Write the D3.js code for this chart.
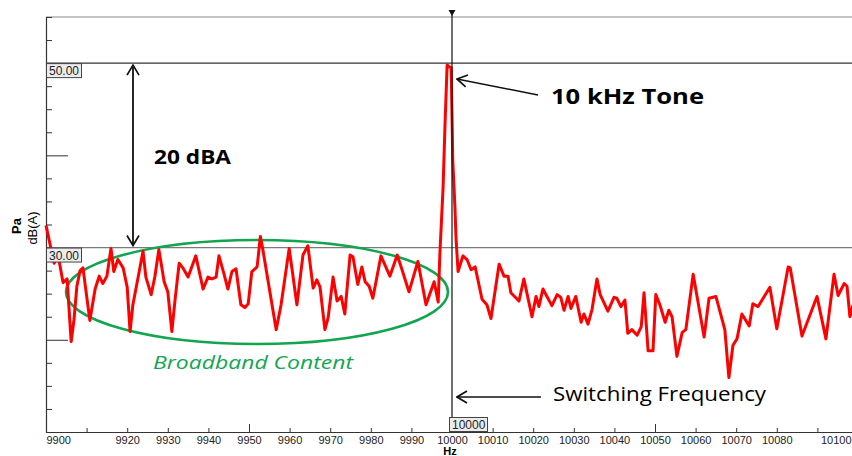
<!DOCTYPE html>
<html>
<head>
<meta charset="utf-8">
<script src="https://cdn.jsdelivr.net/npm/d3@7"></script>
<style>
  body { margin: 0; background: #fff; }
  svg { display: block; }
  .axis text { font-family: "Liberation Sans", Arial, sans-serif; font-size: 11px; fill: #222; }
  .anot { font-family: "Open Sans", Lato, sans-serif; }
</style>
</head>
<body>
<div id="chart"></div>
<script>
// DATOS.
const freqs = [
  9900.0, 9902.0, 9903.0, 9904.2, 9905.2, 9906.2, 9906.9, 9907.6, 9908.4, 9909.1,
  9910.8, 9912.1, 9913.1, 9914.0, 9915.0, 9916.0, 9916.7, 9917.7, 9919.0, 9920.0,
  9920.7, 9921.4, 9922.7, 9923.9, 9924.6, 9925.9, 9926.8, 9927.8, 9929.1, 9930.0,
  9931.0, 9931.8, 9932.8, 9933.7, 9935.0, 9936.9, 9938.7, 9939.9, 9940.9, 9941.9,
  9942.6, 9943.8, 9944.8, 9945.8, 9946.8, 9948.0, 9949.0, 9949.8, 9950.7, 9952.0,
  9952.8, 9953.4, 9956.7, 9957.9, 9959.9, 9961.8, 9963.3, 9964.5, 9965.8, 9966.7,
  9967.5, 9968.7, 9969.5, 9970.7, 9971.7, 9972.7, 9973.6, 9974.9, 9975.6, 9976.8,
  9977.8, 9978.6, 9979.6, 9980.5, 9982.5, 9984.7, 9986.5, 9987.7, 9989.4, 9991.6,
  9993.6, 9995.6, 9996.6, 9997.0, 9997.8, 9998.3, 9998.8, 9999.3, 9999.8, 10000.2,
  10000.7, 10001.0, 10001.5, 10002.7, 10003.7, 10004.7, 10005.7, 10007.4, 10008.6, 10009.6,
  10011.6, 10012.8, 10013.8, 10014.5, 10016.5, 10017.7, 10019.7, 10020.7, 10021.4, 10022.4,
  10024.6, 10025.9, 10026.8, 10027.6, 10028.6, 10029.3, 10030.5, 10031.8, 10032.5, 10033.5,
  10034.5, 10035.7, 10036.5, 10038.4, 10039.9, 10040.6, 10041.6, 10042.6, 10043.3, 10044.3,
  10045.6, 10046.6, 10047.3, 10048.3, 10049.5, 10050.2, 10051.2, 10052.5, 10053.4, 10054.2,
  10055.4, 10056.7, 10057.6, 10059.4, 10062.1, 10063.3, 10065.0, 10067.2, 10068.2, 10069.2,
  10070.2, 10071.4, 10073.2, 10074.1, 10075.4, 10078.3, 10080.0, 10082.8, 10083.3, 10086.2,
  10089.9, 10092.1, 10094.1, 10095.1, 10096.6, 10097.3, 10098.0, 10098.8
];
const levels = [
  32.4, 28.3, 29.1, 26.2, 26.6, 19.8, 22.2, 25.8, 27.5, 27.8,
  22.1, 25.5, 26.9, 26.1, 26.9, 29.9, 27.4, 28.7, 27.8, 25.7,
  20.9, 23.8, 26.8, 29.6, 26.8, 24.9, 26.8, 29.8, 26.3, 25.2,
  20.9, 24.4, 28.3, 27.8, 26.8, 29.1, 25.5, 26.8, 26.6, 26.8,
  29.1, 27.2, 25.5, 27.4, 27.7, 23.8, 23.5, 23.9, 27.4, 27.9,
  31.2, 29.8, 21.1, 23.8, 29.9, 23.8, 29.2, 30.2, 25.6, 26.5,
  25.7, 21.1, 22.4, 26.8, 24.2, 24.7, 22.8, 29.2, 29.0, 26.0,
  27.9, 26.3, 25.8, 24.5, 29.1, 26.9, 29.2, 27.6, 25.2, 28.5,
  23.8, 26.3, 24.1, 29.2, 36.5, 43.6, 49.8, 49.6, 49.5, 39.3,
  34.6, 30.9, 27.4, 29.1, 28.7, 27.6, 27.9, 24.4, 23.8, 22.3,
  28.2, 26.9, 26.9, 25.1, 24.2, 26.6, 22.5, 24.7, 23.6, 25.5,
  23.7, 24.9, 24.6, 23.2, 24.7, 23.4, 24.7, 21.9, 22.8, 21.7,
  23.3, 26.6, 24.9, 23.1, 24.6, 24.5, 23.6, 24.3, 20.7, 21.1,
  20.5, 21.4, 25.1, 18.8, 18.8, 24.9, 23.8, 21.9, 23.2, 22.5,
  18.2, 20.8, 21.1, 27.1, 20.3, 24.5, 24.7, 21.1, 15.9, 19.4,
  20.1, 22.8, 21.5, 23.9, 23.6, 25.7, 21.2, 27.9, 27.8, 20.4,
  24.7, 20.1, 27.1, 24.8, 26.1, 25.8, 22.5, 23.8
];

// Ejes.
const xTickValues = [9900, 9910, 9920, 9930, 9940, 9950, 9960, 9970, 9980, 9990,
  10000, 10010, 10020, 10030, 10040, 10050, 10060, 10070, 10080, 10090, 10100];
const xTickLabels = ["9900", "", "9920", "9930", "9940", "9950", "9960", "9970", "9980", "9990",
  "10000", "10010", "10020", "10030", "10040", "10050", "10060", "10070", "10080", "", "10100"];
const yTickValues = [10, 12.5, 15, 17.5, 20, 22.5, 25, 27.5, 30, 32.5, 35, 37.5, 40,
  42.5, 45, 47.5, 50, 52.5, 55];
const yLongTicks = [20, 40];
const xLongTicks = [9950, 10050];
const refLevels = ["50.00", "30.00"];
const cursorFreq = 10000;

let width = 852, height = 456;
let padLeft = 46, padTop = 17, padBottom = 432;

let x = d3.scaleLinear().domain([9900, 10100]).range([padLeft, 858]);
let y = d3.scaleLinear().domain([10, 55]).range([padBottom, padTop]);

let svg = d3.select("#chart").append("svg")
  .attr("width", width)
  .attr("height", height);

// defs: puntas de flecha abiertas
let defs = svg.append("defs");
defs.append("marker")
  .attr("id", "head")
  .attr("viewBox", "0 0 12 14")
  .attr("refX", 11).attr("refY", 7)
  .attr("markerWidth", 12).attr("markerHeight", 14)
  .attr("markerUnits", "userSpaceOnUse")
  .attr("orient", "auto-start-reverse")
  .append("path")
  .attr("d", "M1,1 L11,7 L1,13")
  .attr("fill", "none")
  .attr("stroke", "#111")
  .attr("stroke-width", 1.7);

// marco superior
svg.append("line")
  .attr("x1", padLeft).attr("x2", width)
  .attr("y1", padTop).attr("y2", padTop)
  .attr("stroke", "#8a8a8a").attr("stroke-width", 1.2);

// lineas de referencia 50 y 30
refLevels.forEach(function(d, i){
  svg.append("line")
    .attr("x1", padLeft).attr("x2", width)
    .attr("y1", y(+d)).attr("y2", y(+d))
    .attr("stroke", i == 0 ? "#333" : "#7a7a7a")
    .attr("stroke-width", 1.2);
});

// eje Y (ticks hacia dentro)
let yAxis = svg.append("g")
  .attr("class", "axis")
  .attr("transform", "translate(" + padLeft + ",0)")
  .call(d3.axisRight(y).tickValues(yTickValues).tickSize(6).tickSizeOuter(0).tickFormat(""));
yAxis.selectAll(".tick line")
  .attr("x2", function(d){ return yLongTicks.indexOf(d) >= 0 ? 22 : 6; })
  .attr("stroke", "#333");
yAxis.select(".domain").attr("stroke", "#333").attr("stroke-width", 1.2);

// eje X (ticks hacia arriba)
let xAxis = svg.append("g")
  .attr("class", "axis")
  .attr("transform", "translate(0," + padBottom + ")")
  .call(d3.axisBottom(x).tickValues(xTickValues).tickSizeInner(-4).tickSizeOuter(0).tickPadding(4)
    .tickFormat(function(d, i){ return xTickLabels[i]; }));
xAxis.selectAll(".tick line")
  .attr("y2", function(d){ return xLongTicks.indexOf(d) >= 0 ? -8 : -4; })
  .attr("stroke", "#333");
xAxis.select(".domain").attr("stroke", "#333").attr("stroke-width", 1.2);
xAxis.selectAll(".tick text")
  .attr("text-anchor", function(d){
    if (d == 9900) return "start";
    if (d == 10100) return "end";
    return "middle";
  })
  .attr("dx", function(d){ return d == 10100 ? (851 - x(d)) : 0; });

// etiqueta Hz
svg.append("text")
  .attr("x", x(cursorFreq) - 2).attr("y", 455)
  .attr("text-anchor", "middle")
  .style("font", "bold 11px 'Liberation Sans', Arial, sans-serif")
  .text("Hz");

// etiquetas del eje Y
svg.append("text")
  .attr("transform", "translate(21,226) rotate(-90)")
  .attr("text-anchor", "middle")
  .style("font", "bold 13px 'Liberation Sans', Arial, sans-serif")
  .text("Pa");
svg.append("text")
  .attr("transform", "translate(37,228) rotate(-90)")
  .attr("text-anchor", "middle")
  .style("font", "13px 'Liberation Sans', Arial, sans-serif")
  .text("dB(A)");

// elipse verde
svg.append("ellipse")
  .attr("cx", 257).attr("cy", 292)
  .attr("rx", 191).attr("ry", 52)
  .attr("fill", "none")
  .attr("stroke", "#12a550")
  .attr("stroke-width", 2.6);

// curva del espectro
let line = d3.line()
  .x(function(d){ return x(d[0]); })
  .y(function(d){ return y(d[1]); });
svg.append("path")
  .datum(freqs.map(function(f, i){ return [f, levels[i]]; }))
  .attr("d", line)
  .attr("fill", "none")
  .attr("stroke", "#ff0000")
  .attr("stroke-width", 3)
  .attr("stroke-linejoin", "round");

// cursor en 10000 Hz
let cx = x(cursorFreq);
svg.append("line")
  .attr("x1", cx).attr("x2", cx)
  .attr("y1", 10).attr("y2", 417)
  .attr("stroke", "#111").attr("stroke-width", 1.2);
svg.append("path")
  .attr("d", "M" + (cx - 3.5) + ",10 L" + (cx + 3.5) + ",10 L" + cx + ",16 Z")
  .attr("fill", "#111");

// cajas de etiquetas
function caja(px, py, w, texto){
  svg.append("rect")
    .attr("x", px + 0.5).attr("y", py + 0.5)
    .attr("width", w).attr("height", 14)
    .attr("fill", "#ececec")
    .attr("stroke", "#444");
  svg.append("text")
    .attr("x", px + 3).attr("y", py + 12)
    .style("font", "12px 'Liberation Sans', Arial, sans-serif")
    .attr("fill", "#222")
    .text(texto);
}
refLevels.forEach(function(d){ caja(padLeft, y(+d), 35, d); });
caja(cx - 3, 417, 38, String(cursorFreq));

// ANOTACIONES
function anotacion(px, py, texto, size, ancho){
  return svg.append("text")
    .attr("class", "anot")
    .attr("x", px).attr("y", py)
    .attr("textLength", ancho)
    .attr("lengthAdjust", "spacingAndGlyphs")
    .style("font-size", size + "px")
    .text(texto);
}

// flecha doble 20 dBA
svg.append("line")
  .attr("x1", 133).attr("x2", 133)
  .attr("y1", y(50) + 2).attr("y2", y(30) - 2)
  .attr("stroke", "#111").attr("stroke-width", 1.8)
  .attr("marker-start", "url(#head)")
  .attr("marker-end", "url(#head)");
anotacion(154, 164, "20 dBA", 20, 77).style("font-weight", "bold");

// 10 kHz Tone
svg.append("line")
  .attr("x1", 538).attr("y1", 95)
  .attr("x2", 457).attr("y2", 79)
  .attr("stroke", "#111").attr("stroke-width", 1.5)
  .attr("marker-end", "url(#head)");
anotacion(551, 104, "10 kHz Tone", 21, 153).style("font-weight", "bold");

// Switching Frequency
svg.append("line")
  .attr("x1", 541).attr("y1", 397)
  .attr("x2", 457).attr("y2", 397)
  .attr("stroke", "#111").attr("stroke-width", 1.5)
  .attr("marker-end", "url(#head)");
anotacion(553, 401, "Switching Frequency", 20, 213);

// Broadband Content
anotacion(153, 369, "Broadband Content", 19, 200)
  .style("font-style", "italic")
  .attr("fill", "#12a550");
</script>
</body>
</html>
